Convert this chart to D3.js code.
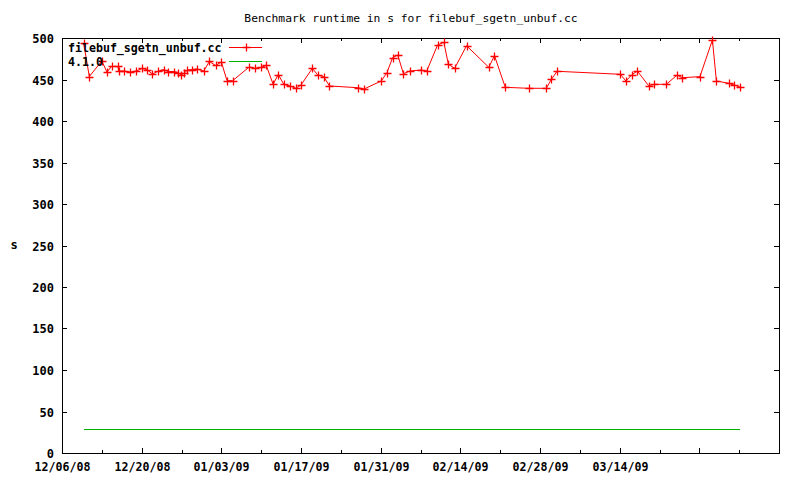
<!DOCTYPE html>
<html><head><meta charset="utf-8">
<script src="https://cdn.jsdelivr.net/npm/d3@7"></script>
<style>
html,body{margin:0;padding:0;background:#fff;}
svg{display:block;}
text{font-family:"DejaVu Sans Mono","Liberation Mono",monospace;}
</style></head>
<body>
<svg id="chart" width="800" height="480"></svg>
<script>
// ---- data ----
const startDate = "2008-12-06";
const endDate = "2009-04-11";
// run time in days since 12/06/08
const runDays = [3.8,4.8,7.0,7.9,8.7,9.8,10.0,10.9,12.0,13.0,14.1,14.9,15.9,16.9,17.9,18.6,19.7,20.4,20.9,21.5,22.0,22.9,23.7,24.9,25.9,27.0,28.0,29.0,30.0,32.9,33.9,34.9,35.9,37.1,38.0,39.0,40.1,41.1,42.0,44.0,44.9,46.0,47.0,52.0,53.1,56.1,57.1,58.1,59.0,60.0,61.1,63.1,64.1,66.0,67.1,67.9,69.0,71.1,75.0,76.0,77.9,82.0,85.1,86.0,87.0,98.1,99.1,100.1,101.1,103.1,104.1,106.2,108.1,109.0,112.1,114.3,115.0,117.2,118.1,119.1];
const runtimes = [494.0,453.6,472.3,459.0,465.7,465.7,460.2,460.2,459.0,460.2,463.3,462.0,456.6,460.2,462.0,459.6,459.6,458.4,455.4,457.8,461.4,462.0,462.7,460.2,471.7,466.9,471.1,448.6,448.6,465.1,463.5,464.5,466.9,444.2,456.0,444.0,442.2,439.4,443.4,463.5,455.7,453.4,442.2,440.1,438.6,448.2,458.2,476.3,479.5,457.0,460.2,461.4,460.2,491.6,494.8,468.3,463.5,490.7,464.7,478.7,440.6,439.4,439.4,450.2,459.9,456.3,448.2,455.4,460.2,442.5,444.2,444.2,455.4,452.2,453.4,497.6,448.2,445.4,443.4,441.3];
const baselineLabel = "4.1.0";
const baselineValue = 28.5;
const seriesLabel = "filebuf_sgetn_unbuf.cc";
const titleText = "Benchmark runtime in s for filebuf_sgetn_unbuf.cc";
const yLabel = "s";
const yTicks = [0,50,100,150,200,250,300,350,400,450,500];
const xTickLabels = ["12/06/08","12/20/08","01/03/09","01/17/09","01/31/09","02/14/09","02/28/09","03/14/09"];
const xMajorDayOffsets = [0,14,28,42,56,70,84,98,112];
const xMinorDayOffsets = [7,21,35,49,63,77,91,105,119];

// ---- layout ----
const L = 62, R = 779, T = 38, B = 453;
const svg = d3.select("#chart");
const t0 = new Date(startDate + "T00:00:00Z");
const dayToDate = d => new Date(t0.getTime() + d * 864e5);
const x = d3.scaleUtc().domain([t0, new Date(endDate + "T00:00:00Z")]).range([L, R]);
const y = d3.scaleLinear().domain([0, 500]).range([B, T]);

const red = "#ff0000", green = "#00b000";

// title
svg.append("text").attr("x", 411).attr("y", 22).attr("text-anchor", "middle")
  .attr("font-size", 11.3).attr("fill", "#000").text(titleText);

// y axis label
svg.append("text").attr("x", 14).attr("y", 249).attr("text-anchor", "middle")
  .attr("font-size", 12).attr("font-weight", "bold").text(yLabel);

const g = svg.append("g").attr("shape-rendering", "crispEdges");

// y ticks (left and right)
yTicks.forEach(v => {
  const yy = Math.round(y(v)) + 0.5;
  g.append("line").attr("x1", L).attr("x2", L + 5).attr("y1", yy).attr("y2", yy).attr("stroke", "#000");
  g.append("line").attr("x1", R - 5).attr("x2", R).attr("y1", yy).attr("y2", yy).attr("stroke", "#000");
  svg.append("text").attr("x", 54).attr("y", yy + 4).attr("text-anchor", "end")
    .attr("font-size", 12).attr("font-weight", "bold").text(v);
});

// x ticks
xMajorDayOffsets.forEach((d, i) => {
  const xx = Math.round(x(dayToDate(d))) + 0.5;
  g.append("line").attr("x1", xx).attr("x2", xx).attr("y1", B).attr("y2", B - 5).attr("stroke", "#000");
  g.append("line").attr("x1", xx).attr("x2", xx).attr("y1", T).attr("y2", T + 5).attr("stroke", "#000");
  if (i < xTickLabels.length) {
    svg.append("text").attr("x", xx).attr("y", 471).attr("text-anchor", "middle")
      .attr("font-size", 11.6).attr("font-weight", "bold").text(xTickLabels[i]);
  }
});
xMinorDayOffsets.forEach(d => {
  const xx = Math.round(x(dayToDate(d))) + 0.5;
  g.append("line").attr("x1", xx).attr("x2", xx).attr("y1", B).attr("y2", B - 3).attr("stroke", "#000");
  g.append("line").attr("x1", xx).attr("x2", xx).attr("y1", T).attr("y2", T + 3).attr("stroke", "#000");
});

// border
g.append("rect").attr("x", L + 0.5).attr("y", T + 0.5).attr("width", R - L).attr("height", B - T)
  .attr("fill", "none").attr("stroke", "#000");

// baseline
svg.append("line")
  .attr("x1", x(dayToDate(runDays[0]))).attr("x2", x(dayToDate(runDays[runDays.length - 1])))
  .attr("y1", Math.round(y(baselineValue)) + 0.5).attr("y2", Math.round(y(baselineValue)) + 0.5)
  .attr("stroke", green).attr("stroke-width", 1).attr("shape-rendering", "crispEdges");

// series line
const pts = runDays.map((d, i) => [x(dayToDate(d)), y(runtimes[i])]);
svg.append("path").attr("d", d3.line()(pts)).attr("fill", "none").attr("stroke", red).attr("stroke-width", 1);

// markers
const cross = (sel, cx, cy) => {
  sel.append("path").attr("d", `M${cx - 4},${cy}H${cx + 4}M${cx},${cy - 4}V${cy + 4}`)
    .attr("stroke", red).attr("stroke-width", 1.3).attr("fill", "none");
};
const mk = svg.append("g");
pts.forEach(p => cross(mk, Math.round(p[0]) + 0.5, Math.round(p[1]) + 0.5));

// legend
svg.append("text").attr("x", 68).attr("y", 52).attr("font-size", 11.6).attr("font-weight", "bold").text(seriesLabel);
svg.append("line").attr("x1", 229).attr("x2", 262).attr("y1", 47.5).attr("y2", 47.5).attr("stroke", red).attr("shape-rendering", "crispEdges");
cross(svg, 246.5, 47.5);
svg.append("text").attr("x", 68).attr("y", 66).attr("font-size", 11.6).attr("font-weight", "bold").text(baselineLabel);
svg.append("line").attr("x1", 229).attr("x2", 262).attr("y1", 61.5).attr("y2", 61.5).attr("stroke", green).attr("shape-rendering", "crispEdges");
</script>
</body></html>
